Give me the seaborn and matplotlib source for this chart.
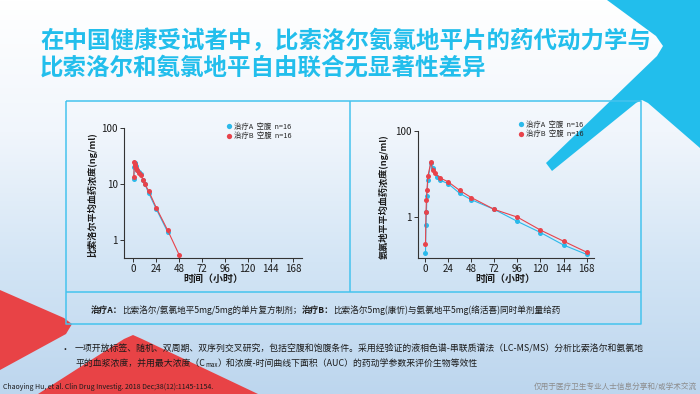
"""比索洛尔/氨氯地平 药代动力学对比图（幻灯片样式）"""

import matplotlib

matplotlib.use("Agg")
import matplotlib.pyplot as plt
import numpy as np
import pandas as pd
import seaborn as sns
from matplotlib.colors import LinearSegmentedColormap
from matplotlib.lines import Line2D
from matplotlib.patches import Polygon

# ---- data ----
bis_t_A = [0.5, 1, 1.5, 2, 3, 4, 6, 8, 10, 12, 16, 24, 36]
bis_A = [12.5, 20, 24, 24, 21, 18, 16.5, 15, 12, 10, 7.0, 3.6, 1.4]
bis_t_B = [0.5, 1, 1.5, 2, 3, 4, 6, 8, 10, 12, 16, 24, 36, 48]
bis_B = [13.5, 25, 23, 21, 19.5, 17.5, 16, 14.5, 12, 10, 7.6, 3.8, 1.5, 0.55]

aml_t_A = [0.5, 1, 1.5, 2, 3, 6, 8, 12, 16, 24, 36, 48, 72, 96, 120, 144, 168]
aml_A = [0.14, 0.64, 1.3, 3.1, 7.1, 18, 13.5, 8.2, 7.0, 5.9, 3.5, 2.5, 1.48, 0.78, 0.43, 0.22, 0.133]
aml_t_B = [0.5, 1, 1.5, 2, 3, 6, 8, 10, 16, 24, 36, 48, 72, 96, 120, 144, 168]
aml_B = [0.23, 1.3, 2.45, 4.2, 8.7, 18.3, 12.2, 10.2, 7.9, 6.5, 4.1, 2.8, 1.48, 0.98, 0.49, 0.27, 0.15]

x_ticks = [0, 24, 48, 72, 96, 120, 144, 168]
legend_labels = ["治疗A  空腹  n=16", "治疗B  空腹  n=16"]
title_lines = ["在中国健康受试者中，比索洛尔氨氯地平片的药代动力学与",
               "比索洛尔和氨氯地平自由联合无显著性差异"]
ylabel_left = "比索洛尔平均血药浓度(ng/ml)"
ylabel_right = "氨氯地平平均血药浓度(ng/ml)"
xlabel = "时间（小时）"

BLUE = "#2BB9EA"
RED = "#E8434B"
CYAN = "#22BEEC"
RED_SHAPE = "#E84346"
LINE = "#45C3EE"

sns.set_style("ticks")
plt.rcParams["font.family"] = ["Noto Sans CJK SC", "DejaVu Sans"]

fig = plt.figure(figsize=(7.0, 3.94), dpi=100)

# ---- background layer in pixel coordinates ----
bg = fig.add_axes([0, 0, 1, 1], zorder=0)
bg.set_xlim(0, 700)
bg.set_ylim(394, 0)
bg.axis("off")

cmap = LinearSegmentedColormap.from_list("bg", ["#FFFFFF", "#F1F6FC", "#D3E5F5", "#BDD6EE"])
grad = np.linspace(0, 1, 256).reshape(-1, 1)
bg.imshow(grad, cmap=cmap, extent=[0, 700, 394, 0], aspect="auto", zorder=0)

# cyan chevron band, top right
bg.add_patch(Polygon([(607, 0), (700, 0), (700, 148), (648, 103), (642, 100), (636, 103),
                      (552, 171), (546, 163), (657, 56), (663, 46), (656, 36)],
                     closed=True, color=CYAN, lw=0, zorder=1))
# red shapes, bottom left
bg.add_patch(Polygon([(0, 290), (64, 318), (72, 324), (66, 334), (0, 370)],
                     closed=True, color=RED_SHAPE, lw=0, zorder=1))
bg.add_patch(Polygon([(38, 394), (124, 339), (133, 335), (142, 339), (258, 394)],
                     closed=True, color=RED_SHAPE, lw=0, zorder=1))

# panel frame
kw = dict(color=LINE, lw=1.1, zorder=2, solid_capstyle="butt")
bg.plot([66, 641, 641, 66, 66], [101, 101, 324, 324, 101], **kw)
bg.plot([66, 641], [292, 292], **kw)
bg.plot([350, 350], [101, 292], **kw)

# title
for i, line in enumerate(title_lines):
    bg.text(40, 41 + 27 * i, line, fontsize=16.9, fontweight="bold", color=CYAN,
            va="center", ha="left", zorder=3)

renderer = fig.canvas.get_renderer()


def draw_runs(x, y, runs, size):
    # runs: (text, weight, size_scale, dy)
    for s, weight, scale, dy in runs:
        t = bg.text(x, y + dy, s, fontsize=size * scale, fontweight=weight, color="#1A1A1A",
                    va="center", ha="left", zorder=3)
        x += t.get_window_extent(renderer=renderer).width


draw_runs(91, 310, [("治疗A：", "bold", 1, 0),
                    ("比索洛尔/氨氯地平5mg/5mg的单片复方制剂；", "normal", 1, 0),
                    ("治疗B：", "bold", 1, 0),
                    ("比索洛尔5mg(康忻)与氨氯地平5mg(络活喜)同时单剂量给药", "normal", 1, 0)], 6.2)

bg.text(60, 349, "•", fontsize=6.5, color="#1A1A1A", va="center", ha="left", zorder=3)
draw_runs(75, 349, [("一项开放标签、随机、双周期、双序列交叉研究，包括空腹和饱腹条件。"
                     "采用经验证的液相色谱-串联质谱法（LC-MS/MS）分析比索洛尔和氨氯地",
                     "normal", 1, 0)], 6.4)
draw_runs(75, 363, [("平的血浆浓度，并用最大浓度（C", "normal", 1, 0),
                    ("max", "normal", 0.7, 2),
                    ("）和浓度-时间曲线下面积（AUC）的药动学参数来评价生物等效性", "normal", 1, 0)], 6.4)

bg.text(3, 387, "Chaoying Hu, et al. Clin Drug Investig. 2018 Dec;38(12):1145-1154.",
        fontsize=5, color="#1A1A1A", va="center", ha="left", zorder=3)
bg.text(697, 387, "仅用于医疗卫生专业人士信息分享和/或学术交流", fontsize=5.5,
        color="#8C8C8C", va="center", ha="right", zorder=3)

# ---- charts ----
palette = {"A": BLUE, "B": RED}


def make_df(tA, cA, tB, cB):
    return pd.concat([pd.DataFrame({"time": tA, "conc": cA, "grp": "A"}),
                      pd.DataFrame({"time": tB, "conc": cB, "grp": "B"})], ignore_index=True)


def px_axes(x0, x1, y_top, y_bot):
    return fig.add_axes([x0 / 700, 1 - y_bot / 394, (x1 - x0) / 700, (y_bot - y_top) / 394],
                        zorder=2, facecolor="none")


def draw_chart(ax, df, ylim, yticks, xlim, ylabel, ylab_x, leg_xy):
    sns.lineplot(data=df, x="time", y="conc", hue="grp", hue_order=["A", "B"], palette=palette,
                 marker="o", markersize=3.6, markeredgewidth=0, linewidth=0.8,
                 estimator=None, sort=False, legend=False, ax=ax)
    ax.set_yscale("log")
    ax.set_ylim(*ylim)
    ax.set_xlim(*xlim)
    ax.set_yticks(yticks)
    ax.set_yticklabels([f"{v:g}" for v in yticks])
    ax.yaxis.set_minor_locator(matplotlib.ticker.NullLocator())
    ax.set_xticks(x_ticks)
    ax.tick_params(labelsize=7, length=3, width=0.7, color="#333333", labelcolor="#1A1A1A", pad=1.5)
    for side in ("top", "right"):
        ax.spines[side].set_visible(False)
    for side in ("left", "bottom"):
        ax.spines[side].set_color("#333333")
        ax.spines[side].set_linewidth(0.8)
    ax.set_ylabel(ylabel, fontsize=6.6, fontweight="bold", color="#1A1A1A")
    ax.yaxis.set_label_coords(ylab_x, 0.485)
    ax.set_xlabel(xlabel, fontsize=7.2, fontweight="bold", color="#1A1A1A")
    ax.xaxis.set_label_coords(0.5, -0.125)
    handles = [Line2D([], [], ls="none", marker="o", markersize=3.8, markeredgewidth=0, color=c)
               for c in (BLUE, RED)]
    ax.legend(handles, legend_labels, loc="upper left", frameon=False, fontsize=5.3,
              bbox_to_anchor=(leg_xy[0] / 700, 1 - leg_xy[1] / 394), bbox_transform=fig.transFigure,
              borderpad=0, borderaxespad=0, handlelength=0.7, handletextpad=0.35, labelspacing=0.15)


ax1 = px_axes(124, 302, 128, 258)
draw_chart(ax1, make_df(bis_t_A, bis_A, bis_t_B, bis_B), (0.48, 100), [1, 10, 100],
           (-9.8, 177), ylabel_left, -0.148, (226, 123))

ax2 = px_axes(417.7, 594, 130.7, 258)
draw_chart(ax2, make_df(aml_t_A, aml_A, aml_t_B, aml_B), (0.11, 100), [1, 100],
           (-7.6, 175.6), ylabel_right, -0.165, (518, 121))

fig.savefig("out.png", dpi=100)
plt.close(fig)
